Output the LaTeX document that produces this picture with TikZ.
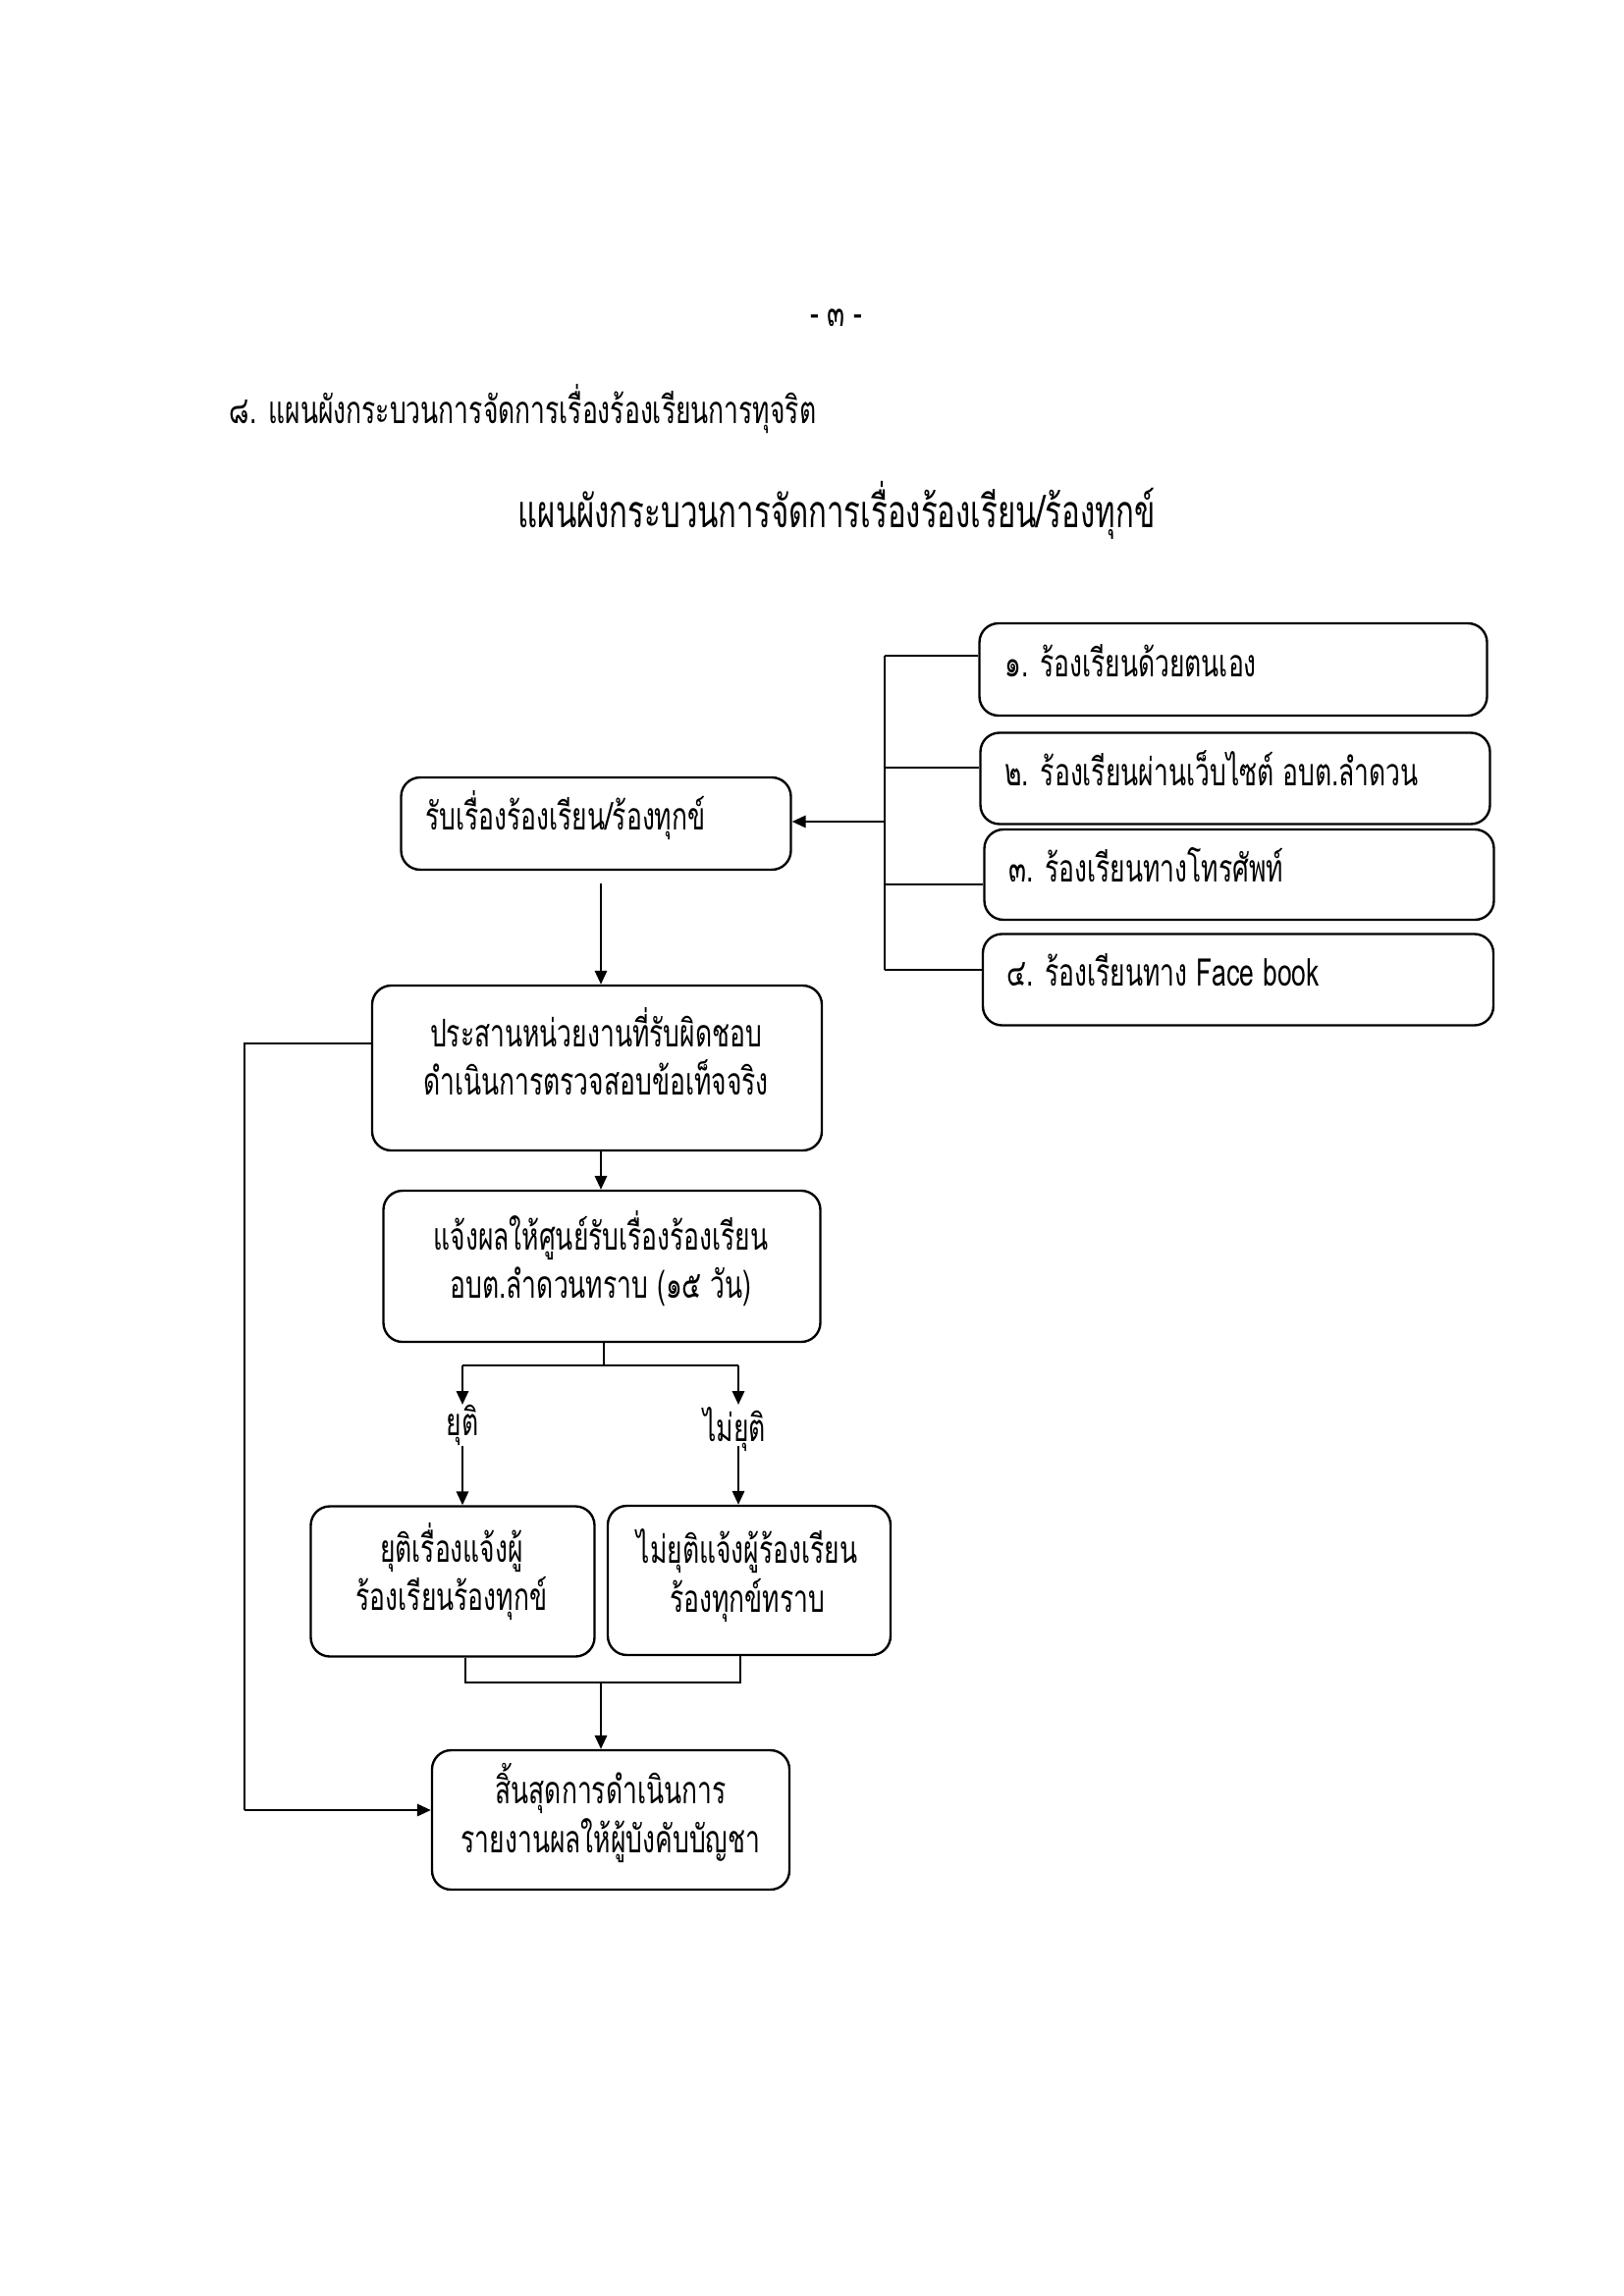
\documentclass[tikz,border=0pt]{standalone}
\usepackage{fontspec}
\newfontfamily\thaifont[Script=Thai,FakeStretch=0.68]{Loma}
\usetikzlibrary{arrows.meta}
\newcommand\pxu{0.3597pt}
\begin{document}
\begin{tikzpicture}[x=0.3597pt,y=-0.3597pt,
  font=\thaifont\fontsize{14}{17.7}\selectfont,
  line width=0.85pt,
  box/.style={draw, rounded corners=7pt, inner sep=0pt},
  txt/.style={inner sep=0pt, align=center},
  ltxt/.style={inner sep=0pt, anchor=west},
  arr/.style={-{Triangle[length=5pt,width=4.4pt]}},
  lbl/.style={inner sep=1pt}
]
\useasboundingbox (0,0) rectangle (1654,2339);
% headings
\node[lbl] (pg) at (852,324) {- ๓ -};
\node[lbl, anchor=west] (hd) at (230,417) {๘. แผนผังกระบวนการจัดการเรื่องร้องเรียนการทุจริต};
\node[lbl, font=\thaifont\fontsize{16.5}{20}\selectfont] (tt) at (852,520) {แผนผังกระบวนการจัดการเรื่องร้องเรียน/ร้องทุกข์};
% channel boxes
\node[box, minimum width=517*\pxu, minimum height=94*\pxu] (B1) at (1256,682) {};
\node[box, minimum width=519*\pxu, minimum height=93*\pxu] (B2) at (1258,793) {};
\node[box, minimum width=519*\pxu, minimum height=92*\pxu] (B3) at (1262,891) {};
\node[box, minimum width=520*\pxu, minimum height=93*\pxu] (B4) at (1261,998) {};
\node[ltxt] (B1t) at (1022,673) {๑. ร้องเรียนด้วยตนเอง};
\node[ltxt] (B2t) at (1022,783) {๒. ร้องเรียนผ่านเว็บไซต์ อบต.ลำดวน};
\node[ltxt] (B3t) at (1026,881) {๓. ร้องเรียนทางโทรศัพท์};
\node[ltxt] (B4t) at (1024,988) {๔. ร้องเรียนทาง Face book};
% main boxes
\node[box, minimum width=397*\pxu, minimum height=94*\pxu] (R) at (607,839) {};
\node[ltxt] (Rt) at (432,831) {รับเรื่องร้องเรียน/ร้องทุกข์};
\node[box, minimum width=458*\pxu, minimum height=168*\pxu] (P) at (608,1088) {};
\node[txt] (Pt) at (607,1071) {ประสานหน่วยงานที่รับผิดชอบ\\ดำเนินการตรวจสอบข้อเท็จจริง};
\node[box, minimum width=445*\pxu, minimum height=154*\pxu] (N) at (613,1290) {};
\node[txt] (Nt) at (612,1282) {แจ้งผลให้ศูนย์รับเรื่องร้องเรียน\\อบต.ลำดวนทราบ (๑๕ วัน)};
\node[box, minimum width=289*\pxu, minimum height=153*\pxu] (Y) at (461,1611) {};
\node[txt] (Yt) at (460,1601) {ยุติเรื่องแจ้งผู้\\ร้องเรียนร้องทุกข์};
\node[box, minimum width=288*\pxu, minimum height=152*\pxu] (NY) at (763,1610) {};
\node[txt] (NYt) at (761,1605) {ไม่ยุติแจ้งผู้ร้องเรียน\\ร้องทุกข์ทราบ};
\node[box, minimum width=364*\pxu, minimum height=142*\pxu] (E) at (622,1854) {};
\node[txt] (Et) at (622,1847) {สิ้นสุดการดำเนินการ\\รายงานผลให้ผู้บังคับบัญชา};
% labels
\node[lbl] (ly) at (471,1452) {ยุติ};
\node[lbl] (lny) at (748,1456) {ไม่ยุติ};
% bracket of channels
\coordinate (s1) at (901,668);
\coordinate (s2) at (901,782);
\coordinate (s3) at (901,901);
\coordinate (s4) at (901,988);
\coordinate (sm) at (901,837);
\draw (s1) -- (s1 -| B1.west);
\draw (s2) -- (s2 -| B2.west);
\draw (s3) -- (s3 -| B3.west);
\draw (s4) -- (s4 -| B4.west);
\draw (s1) -- (s4);
\draw[arr] (sm) -- (sm -| R.east);
% R to P
\coordinate (rp) at (612,900);
\draw[arr] (rp) -- (rp |- P.north);
% P to N
\coordinate (pn) at (612,1172);
\draw[arr] (pn) -- (pn |- N.north);
% split
\coordinate (nsp) at (615,1391);
\coordinate (spl) at (471,1391);
\coordinate (spr) at (752,1391);
\coordinate (tl) at (471,1431);
\coordinate (tr) at (752,1431);
\draw (nsp |- N.south) -- (nsp);
\draw (spl) -- (spr);
\draw[arr] (spl) -- (tl);
\draw[arr] (spr) -- (tr);
\coordinate (ul) at (471,1473);
\coordinate (ur) at (752,1473);
\draw[arr] (ul) -- (ul |- Y.north);
\draw[arr] (ur) -- (ur |- NY.north);
% merge
\coordinate (ml) at (474,1714);
\coordinate (mr) at (754,1714);
\coordinate (mc) at (612,1714);
\draw (ml |- Y.south) -- (ml) -- (mr) -- (mr |- NY.south);
\draw[arr] (mc) -- (mc |- E.north);
% left loop
\coordinate (la) at (249,1063);
\coordinate (lb) at (249,1844);
\draw (la -| P.west) -- (la) -- (lb);
\draw[arr] (lb) -- (lb -| E.west);
\end{tikzpicture}
\end{document}
